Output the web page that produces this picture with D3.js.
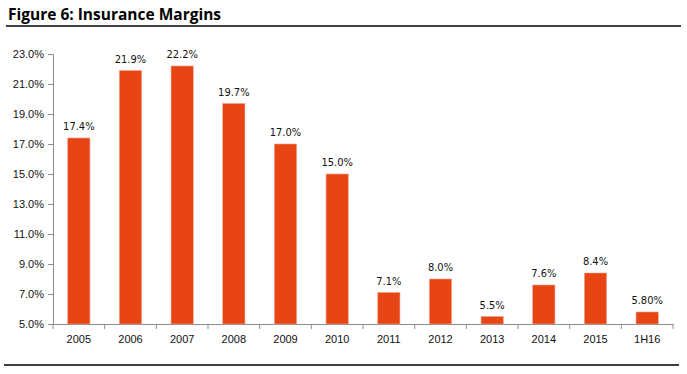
<!DOCTYPE html>
<html>
<head>
<meta charset="utf-8">
<script src="https://cdn.jsdelivr.net/npm/d3@7"></script>
<style>
  body { margin: 0; background: #fff; }
  svg { font-family: "DejaVu Sans Condensed", "Liberation Sans", sans-serif; }
</style>
</head>
<body>
<svg class="chart"></svg>
<script>
// values
var years = ["2005", "2006", "2007", "2008", "2009", "2010", "2011", "2012", "2013", "2014", "2015", "1H16"];
var margins = [17.4, 21.9, 22.2, 19.7, 17.0, 15.0, 7.1, 8.0, 5.5, 7.6, 8.4, 5.8];
var labels = ["17.4%", "21.9%", "22.2%", "19.7%", "17.0%", "15.0%", "7.1%", "8.0%", "5.5%", "7.6%", "8.4%", "5.80%"];
var yTicks = [5, 7, 9, 11, 13, 15, 17, 19, 21, 23];

var W = 687, H = 374;

var chart = d3.select('.chart')
    .attr('width', W)
    .attr('height', H);

// title + rules
chart.append("text")
    .attr("x", 8)
    .attr("y", 20)
    .style("font-family", "'Open Sans', sans-serif")
    .style("font-size", "15.5px")
    .style("font-weight", "bold")
    .text("Figure 6: Insurance Margins");

chart.append("line")
    .attr("x1", 6).attr("x2", 681)
    .attr("y1", 26).attr("y2", 26)
    .attr("stroke", "#000").attr("stroke-width", 1.5);

chart.append("line")
    .attr("x1", 4).attr("x2", 679)
    .attr("y1", 365).attr("y2", 365)
    .attr("stroke", "#000").attr("stroke-width", 1.5);

var x = d3.scaleBand()
    .domain(years)
    .range([53, 673])
    .paddingInner(0.57)
    .paddingOuter(0.285);

var y = d3.scaleLinear()
    .domain([5, 23])
    .range([324, 54]);

// axes
var yAxis = d3.axisLeft(y)
    .tickValues(yTicks)
    .tickSize(5)
    .tickPadding(4)
    .tickFormat(function (d) { return d.toFixed(1) + "%"; });

var gy = chart.append('g')
    .attr('transform', 'translate(53,0)')
    .call(yAxis);

var xAxis = d3.axisBottom(x).tickSize(0).tickPadding(11);

var gx = chart.append('g')
    .attr('transform', 'translate(0,324)')
    .call(xAxis);

// tick marks between categories
var step = x.step();
gx.selectAll(".sep")
    .data(d3.range(years.length + 1))
    .enter().append("line")
    .attr("x1", function (i) { return 53 + i * step; })
    .attr("x2", function (i) { return 53 + i * step; })
    .attr("y1", 0).attr("y2", 5)
    .attr("stroke", "#8c8c8c");

[gx, gy].forEach(function (g) {
  g.selectAll(".domain").attr("stroke", "#8c8c8c");
  g.selectAll(".tick line").attr("stroke", "#8c8c8c");
  g.selectAll("text").style("font-size", "11px").attr("fill", "#111");
});

// bars
chart.append("g").selectAll("rect")
    .data(margins)
    .enter().append("rect")
    .attr("x", function (d, i) { return x(years[i]); })
    .attr("y", function (d) { return y(d); })
    .attr("width", x.bandwidth())
    .attr("height", function (d) { return y(5) - y(d); })
    .attr("fill", "#e84515")
    .attr("stroke", "#f2a08a")
    .attr("stroke-width", 0.6);

// value labels
chart.append("g").selectAll("text")
    .data(margins)
    .enter().append("text")
    .attr("x", function (d, i) { return x(years[i]) + x.bandwidth() / 2; })
    .attr("y", function (d) { return y(d) - 8; })
    .attr("text-anchor", "middle")
    .style("font-size", "11px")
    .attr("fill", "#111")
    .text(function (d, i) { return labels[i]; });
</script>
</body>
</html>
